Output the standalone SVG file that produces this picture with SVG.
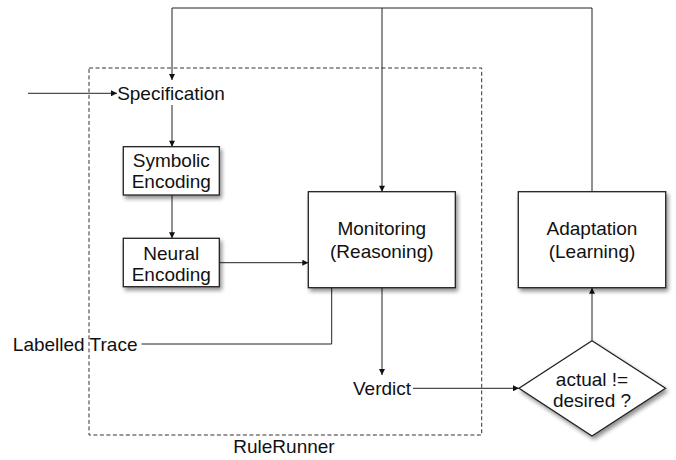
<svg xmlns="http://www.w3.org/2000/svg" width="676" height="460" viewBox="0 0 676 460">
<style>
  text { font-family: "Liberation Sans", Arial, sans-serif; font-size: 19px; fill: #111; }
  .box { fill: #fff; stroke: #222; stroke-width: 1.3; filter: url(#sh); }
  .ln { fill: none; stroke: #222; stroke-width: 1; }
  .arr { marker-end: url(#ah); }
  .dash { fill: none; stroke: #333; stroke-width: 1; stroke-dasharray: 4 2.5; }
</style>
<defs>
  <marker id="ah" viewBox="0 0 10 10" refX="10" refY="5" markerWidth="8" markerHeight="6" markerUnits="userSpaceOnUse" orient="auto">
    <path d="M0,0 L10,5 L0,10 z" fill="#111"/>
  </marker>
  <filter id="sh" x="-10%" y="-10%" width="130%" height="130%">
    <feGaussianBlur in="SourceAlpha" stdDeviation="2"/>
    <feOffset dx="1.5" dy="2.5" result="b"/>
    <feComponentTransfer><feFuncA type="linear" slope="0.45"/></feComponentTransfer>
    <feMerge><feMergeNode/><feMergeNode in="SourceGraphic"/></feMerge>
  </filter>
</defs>
<rect width="676" height="460" fill="#fff"/>

<g id="rulerunner">
  <rect class="dash" x="89" y="68" width="392.7" height="367"/>
  <text x="284" y="453" text-anchor="middle">RuleRunner</text>
</g>

<g id="connectors">
  <path class="ln arr" d="M28,93.3 H117"/>
  <path class="ln" d="M172,8 H592 V191.7"/>
  <path class="ln arr" d="M172,8 V80"/>
  <path class="ln arr" d="M382,8 V191.7"/>
  <path class="ln arr" d="M172,105 V146.7"/>
  <path class="ln arr" d="M172,195 V238.3"/>
  <path class="ln arr" d="M219.3,262.7 H308.3"/>
  <path class="ln" d="M141.5,344 H331.7 V287.7"/>
  <path class="ln arr" d="M382,287.7 V375"/>
  <path class="ln arr" d="M413,388.3 H519"/>
  <path class="ln arr" d="M592,340.7 V287.7"/>
</g>

<g id="specification">
  <text x="171" y="100" text-anchor="middle">Specification</text>
</g>

<g id="symbolic">
  <rect class="box" x="123.3" y="146.7" width="96" height="48.3"/>
  <text x="171.3" y="166.7" text-anchor="middle">Symbolic</text>
  <text x="171.3" y="188.3" text-anchor="middle">Encoding</text>
</g>

<g id="neural">
  <rect class="box" x="123.3" y="238.3" width="96" height="48.4"/>
  <text x="171.3" y="259.5" text-anchor="middle">Neural</text>
  <text x="171.3" y="281" text-anchor="middle">Encoding</text>
</g>

<g id="monitoring">
  <rect class="box" x="308.3" y="191.7" width="147" height="96"/>
  <text x="381.8" y="235" text-anchor="middle">Monitoring</text>
  <text x="381.8" y="257.7" text-anchor="middle">(Reasoning)</text>
</g>

<g id="adaptation">
  <rect class="box" x="518.3" y="191.7" width="147.4" height="96"/>
  <text x="592" y="235" text-anchor="middle">Adaptation</text>
  <text x="592" y="257.7" text-anchor="middle">(Learning)</text>
</g>

<g id="labelled-trace">
  <text x="137.5" y="351" text-anchor="end">Labelled Trace</text>
</g>

<g id="verdict">
  <text x="382" y="395" text-anchor="middle">Verdict</text>
</g>

<g id="decision">
  <polygon class="box" points="592,340.7 665.5,388.3 592,436 519,388.3"/>
  <text x="592" y="386" text-anchor="middle">actual !=</text>
  <text x="592" y="407" text-anchor="middle">desired ?</text>
</g>
</svg>
